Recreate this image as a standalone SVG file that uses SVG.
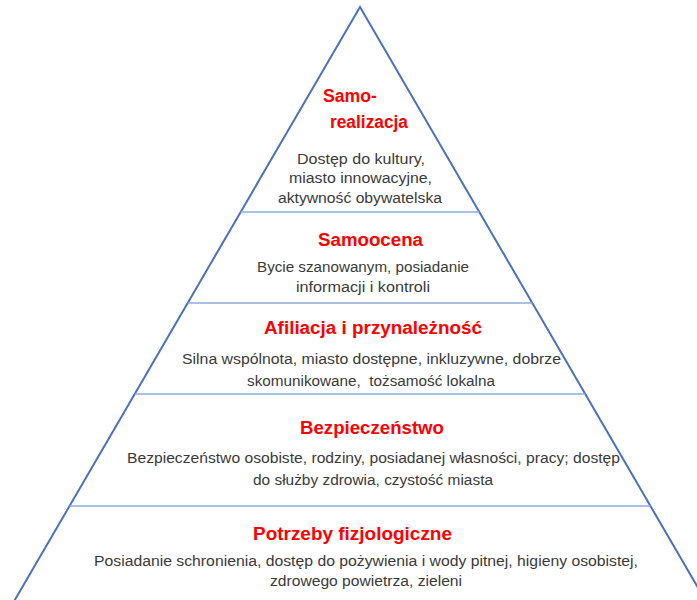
<svg xmlns="http://www.w3.org/2000/svg" width="697" height="600" viewBox="0 0 697 600">
<style>
.edge{fill:#ffffff;stroke:#4a72c0;stroke-width:2;stroke-linejoin:miter}
.sep{stroke:#8fabdc;stroke-width:1.3;fill:none}
.t{font-family:"Liberation Sans",Arial,sans-serif;font-weight:bold;font-size:18px;fill:#ff0000}
.b{font-family:"Liberation Sans",Arial,sans-serif;font-size:14px;fill:#3a3a3a}
</style>
<rect width="697" height="600" fill="#ffffff"/>
<g id="pyramid">
<polygon class="edge" points="360,7 711,610 9,610"/>
<line class="sep" x1="240.7" y1="212" x2="479.3" y2="212"/>
<line class="sep" x1="187.7" y1="303" x2="532.3" y2="303"/>
<line class="sep" x1="134.8" y1="394" x2="585.2" y2="394"/>
<line class="sep" x1="69.6" y1="506" x2="650.4" y2="506"/>
</g>
<g id="connectors"></g>
<g id="level5">
<text class="t" x="323" y="102" textLength="54" lengthAdjust="spacingAndGlyphs">Samo-</text>
<text class="t" x="330" y="128" textLength="78" lengthAdjust="spacingAndGlyphs">realizacja</text>
<text class="b" x="297" y="164" textLength="128" lengthAdjust="spacingAndGlyphs">Dostęp do kultury,</text>
<text class="b" x="289" y="183" textLength="143" lengthAdjust="spacingAndGlyphs">miasto innowacyjne,</text>
<text class="b" x="278" y="203" textLength="164" lengthAdjust="spacingAndGlyphs">aktywność obywatelska</text>
</g>
<g id="level4">
<text class="t" x="318" y="246" textLength="105" lengthAdjust="spacingAndGlyphs">Samoocena</text>
<text class="b" x="257" y="272" textLength="212" lengthAdjust="spacingAndGlyphs">Bycie szanowanym, posiadanie</text>
<text class="b" x="296" y="292" textLength="134" lengthAdjust="spacingAndGlyphs">informacji i kontroli</text>
</g>
<g id="level3">
<text class="t" x="264" y="334" textLength="218" lengthAdjust="spacingAndGlyphs">Afiliacja i przynależność</text>
<text class="b" x="182" y="364" textLength="379" lengthAdjust="spacingAndGlyphs">Silna wspólnota, miasto dostępne, inkluzywne, dobrze</text>
<text class="b" x="247" y="386" textLength="248" lengthAdjust="spacingAndGlyphs" xml:space="preserve">skomunikowane,  tożsamość lokalna</text>
</g>
<g id="level2">
<text class="t" x="300" y="434" textLength="144" lengthAdjust="spacingAndGlyphs">Bezpieczeństwo</text>
<text class="b" x="127" y="463" textLength="493" lengthAdjust="spacingAndGlyphs">Bezpieczeństwo osobiste, rodziny, posiadanej własności, pracy; dostęp</text>
<text class="b" x="253" y="485" textLength="240" lengthAdjust="spacingAndGlyphs">do służby zdrowia, czystość miasta</text>
</g>
<g id="level1">
<text class="t" x="253" y="540" textLength="199" lengthAdjust="spacingAndGlyphs">Potrzeby fizjologiczne</text>
<text class="b" x="94" y="566" textLength="544" lengthAdjust="spacingAndGlyphs">Posiadanie schronienia, dostęp do pożywienia i wody pitnej, higieny osobistej,</text>
<text class="b" x="270" y="586" textLength="192" lengthAdjust="spacingAndGlyphs">zdrowego powietrza, zieleni</text>
</g>
</svg>
